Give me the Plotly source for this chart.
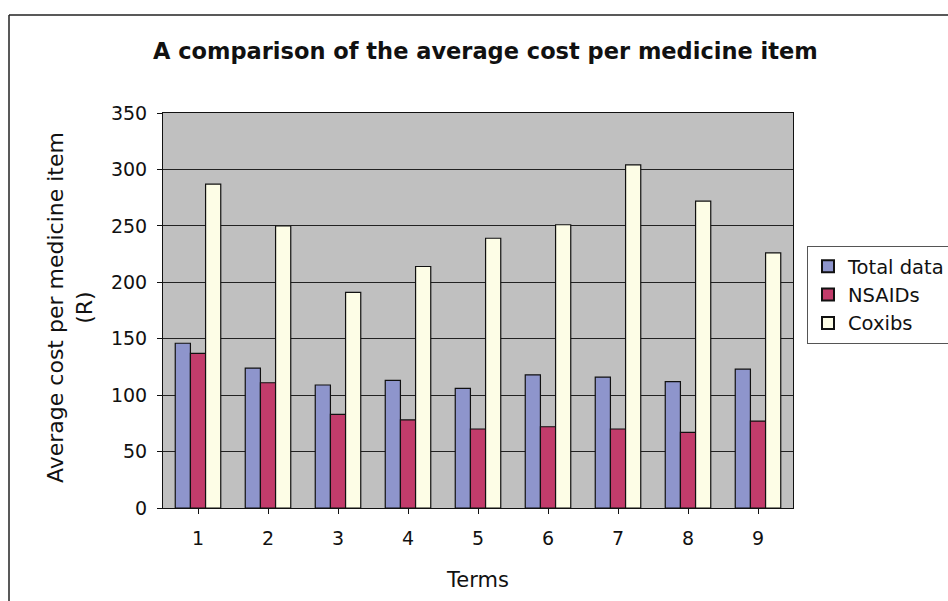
import plotly.graph_objects as go

terms = ["1", "2", "3", "4", "5", "6", "7", "8", "9"]
total_data = [146, 124, 109, 113, 106, 118, 116, 112, 123]
nsaids = [137, 111, 83, 78, 70, 72, 70, 67, 77]
coxibs = [287, 250, 191, 214, 239, 251, 304, 272, 226]

W, H = 948, 601
L, R, T, B = 163, 793, 113, 508  # plot area edges in pixels
FONT = "DejaVu Sans, Liberation Sans, Arial, sans-serif"


def px_x(x):
    return (x - L) / (R - L)


def px_y(y):
    return (B - y) / (B - T)


fig = go.Figure()
series = [
    ("Total data", total_data, "#8e95cc"),
    ("NSAIDs", nsaids, "#c23c6b"),
    ("Coxibs", coxibs, "#fdfde6"),
]
for name, vals, color in series:
    fig.add_trace(go.Bar(
        x=terms, y=vals, name=name,
        marker=dict(color=color, line=dict(color="#111111", width=1.2)),
    ))

fig.update_layout(
    width=W, height=H,
    margin=dict(l=L, r=W - R, t=T, b=H - B, autoexpand=False),
    paper_bgcolor="white",
    plot_bgcolor="#c0c0c0",
    barmode="group",
    bargap=0.35,
    bargroupgap=0,
    font=dict(family=FONT, size=19, color="#111111"),
    showlegend=True,
    legend=dict(
        x=px_x(807), y=px_y(246), xanchor="left", yanchor="top",
        bgcolor="white", bordercolor="#555555", borderwidth=1,
        font=dict(family=FONT, size=19.5, color="#111111"),
        itemsizing="constant", tracegroupgap=0,
    ),
    xaxis=dict(
        showgrid=False, showline=True, linecolor="#111111", linewidth=1,
        ticks="outside", ticklen=5, tickcolor="#111111",
        tickfont=dict(size=19), ticklabelstandoff=8, mirror=True,
        title=dict(text="Terms", font=dict(size=21), standoff=24),
    ),
    yaxis=dict(
        range=[0, 350], dtick=50, showgrid=True, gridcolor="#222222", gridwidth=1,
        showline=True, linecolor="#111111", linewidth=1, mirror=True,
        ticks="outside", ticklen=5, tickcolor="#111111",
        tickfont=dict(size=19), ticklabelstandoff=6, zeroline=False,
    ),
)

# chart title
fig.add_annotation(
    text="<b>A comparison of the average cost per medicine item</b>",
    xref="paper", yref="paper", x=px_x(485), y=px_y(51),
    xanchor="center", yanchor="middle", showarrow=False,
    font=dict(family=FONT, size=22.5, color="#111111"),
)

# y axis title (two lines)
fig.add_annotation(
    text="Average cost per medicine item<br>(R)",
    xref="paper", yref="paper", x=px_x(70), y=px_y(308),
    xanchor="center", yanchor="middle", showarrow=False, textangle=-90,
    font=dict(family=FONT, size=22, color="#111111"),
)

# outer frame (left and top edges)
fig.add_shape(type="line", xref="paper", yref="paper",
              x0=px_x(9), x1=px_x(9), y0=px_y(15), y1=px_y(H),
              line=dict(color="#222222", width=1.5))
fig.add_shape(type="line", xref="paper", yref="paper",
              x0=px_x(9), x1=px_x(W), y0=px_y(15), y1=px_y(15),
              line=dict(color="#222222", width=1.5))

fig.write_html("out.html")
